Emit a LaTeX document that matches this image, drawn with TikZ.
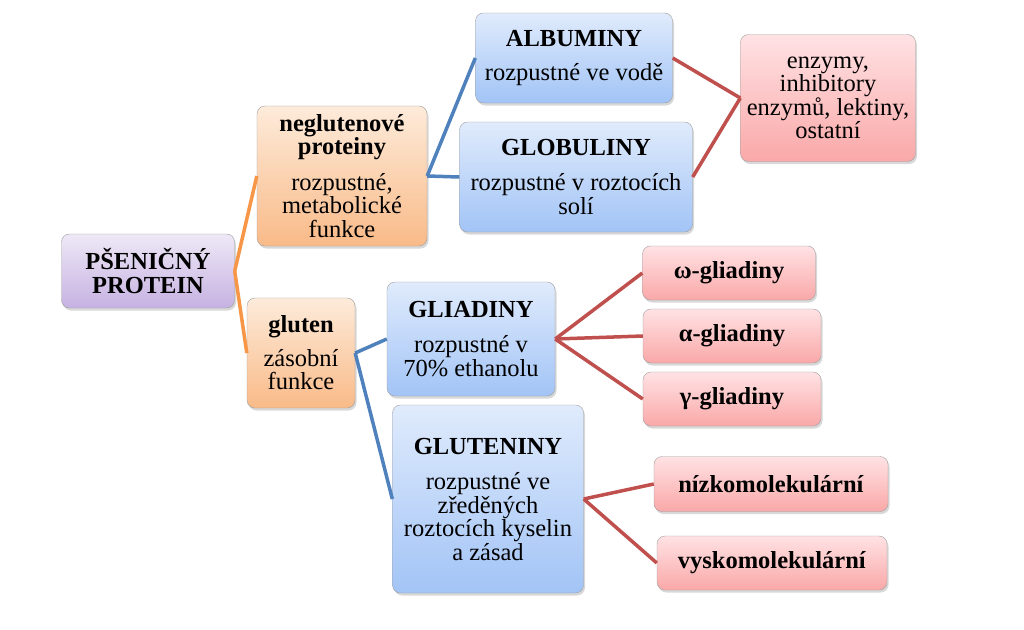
\documentclass[tikz,border=0pt]{standalone}
\usepackage{fontspec}
\setmainfont{Liberation Serif}
\usetikzlibrary{shadows}

\definecolor{lilaT}{RGB}{238,232,246}
\definecolor{lilaB}{RGB}{198,178,226}
\definecolor{oranT}{RGB}{253,235,218}
\definecolor{oranB}{RGB}{249,186,136}
\definecolor{modrT}{RGB}{224,235,252}
\definecolor{modrB}{RGB}{162,196,246}
\definecolor{ruzT}{RGB}{255,226,228}
\definecolor{ruzB}{RGB}{250,168,168}
\definecolor{oranL}{RGB}{247,150,70}
\definecolor{modrL}{RGB}{79,129,189}
\definecolor{cervL}{RGB}{192,80,77}

\begin{document}
\begin{tikzpicture}[x=1pt, y=-1pt,
    box/.style={draw=gray!75, rounded corners=8pt, align=center, inner sep=2pt,
        font=\fontsize{24.5}{23.5}\selectfont,
        drop shadow={shadow xshift=1.5pt, shadow yshift=-2.5pt, opacity=0.3}},
    lilabox/.style={box, top color=lilaT, bottom color=lilaB},
    oranbox/.style={box, top color=oranT, bottom color=oranB},
    modrbox/.style={box, top color=modrT, bottom color=modrB},
    ruzbox/.style={box, top color=ruzT, bottom color=ruzB},
    oranline/.style={oranL, line width=3.5pt},
    modrline/.style={modrL, line width=3.5pt},
    cervline/.style={cervL, line width=3.5pt}
]

% Page
\useasboundingbox[fill=white] (0,0) rectangle (1024,629);

% Root
\node[lilabox, minimum width=173, minimum height=74] (protein) at (148,271)
    {\textbf{PŠENIČNÝ}\\\textbf{PROTEIN}};

% Second level
\node[oranbox, minimum width=170, minimum height=140] (neglut) at (342,176)
    {\textbf{neglutenové}\\\textbf{proteiny}\\[12pt]rozpustné,\\metabolické\\funkce};
\node[oranbox, minimum width=108, minimum height=110] (gluten) at (301,353)
    {\textbf{gluten}\\[10pt]zásobní\\funkce};

% Third level
\node[modrbox, minimum width=197, minimum height=90] (albu) at (574,58)
    {\textbf{ALBUMINY}\\[10pt]rozpustné ve vodě};
\node[modrbox, minimum width=233, minimum height=110] (glob) at (576,177)
    {\textbf{GLOBULINY}\\[12pt]rozpustné v roztocích\\solí};
\node[modrbox, minimum width=168, minimum height=114] (glia) at (471,339)
    {\textbf{GLIADINY}\\[12pt]rozpustné v\\70\% ethanolu};
\node[modrbox, minimum width=191, minimum height=188] (glut) at (488,499)
    {\textbf{GLUTENINY}\\[12pt]rozpustné ve\\zředěných\\roztocích kyselin\\a zásad};

% Fourth level
\node[ruzbox, minimum width=175, minimum height=127] (enz) at (828,98)
    {enzymy,\\inhibitory\\enzymů, lektiny,\\ostatní};
\node[ruzbox, minimum width=173, minimum height=54] (omega) at (729,273)
    {\textbf{ω-gliadiny}};
\node[ruzbox, minimum width=178, minimum height=54] (alfa) at (732,336)
    {\textbf{α-gliadiny}};
\node[ruzbox, minimum width=178, minimum height=54] (gama) at (732,399)
    {\textbf{γ-gliadiny}};
\node[ruzbox, minimum width=234, minimum height=55] (nizko) at (771,484)
    {\textbf{nízkomolekulární}};
\node[ruzbox, minimum width=230, minimum height=54] (vysko) at (772,563)
    {\textbf{vyskomolekulární}};

% Connectors
\draw[oranline] (protein.east) -- (neglut.west);
\draw[oranline] (protein.east) -- (gluten.west);

\draw[modrline] (neglut.east) -- (albu.west);
\draw[modrline] (neglut.east) -- (glob.west);
\draw[modrline] (gluten.east) -- (glia.west);
\draw[modrline] (gluten.east) -- (glut.west);

\draw[cervline] (albu.east) -- (enz.west);
\draw[cervline] (glob.east) -- (enz.west);
\draw[cervline] (glia.east) -- (omega.west);
\draw[cervline] (glia.east) -- (alfa.west);
\draw[cervline] (glia.east) -- (gama.west);
\draw[cervline] (glut.east) -- (nizko.west);
\draw[cervline] (glut.east) -- (vysko.west);

\end{tikzpicture}
\end{document}
